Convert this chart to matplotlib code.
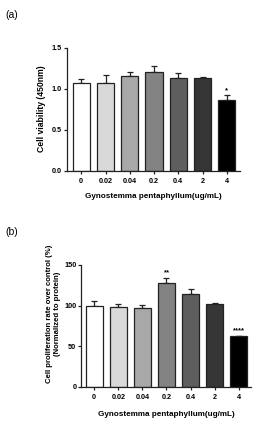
import matplotlib
matplotlib.use("Agg")
import matplotlib.pyplot as plt
import numpy as np

categories = ["0", "0.02", "0.04", "0.2", "0.4", "2", "4"]
colors = ["#ffffff", "#d9d9d9", "#a8a8a8", "#838383", "#5e5e5e", "#363636", "#000000"]

viability = [1.07, 1.075, 1.16, 1.205, 1.13, 1.13, 0.86]
viability_err = [0.045, 0.09, 0.045, 0.065, 0.055, 0.012, 0.06]
viability_sig = ["", "", "", "", "", "", "*"]

prolif = [100, 98, 97.3, 128.3, 114.4, 102.5, 62.2]
prolif_err = [5.3, 3.7, 3.2, 5.7, 5.4, 0.8, 0.8]
prolif_sig = ["", "", "", "**", "", "", "****"]

plt.rcParams['font.family'] = ['Liberation Sans', 'DejaVu Sans']
plt.rcParams['font.weight'] = 'bold'

fig = plt.figure(figsize=(2.57, 4.29), dpi=100)

def draw(ax, vals, errs, sig, ylim, yticks, ylabel, ylabel_fs, ylabel_pos, xlim, width, fmt, xlab_pad):
    x = np.arange(len(categories))
    ax.bar(x, vals, width=width, color=colors, edgecolor="#222222", linewidth=0.9, zorder=2)
    ax.errorbar(x, vals, yerr=[np.zeros(len(errs)), errs], fmt="none", ecolor="#222222",
                elinewidth=0.9, capsize=2.5, capthick=0.9, zorder=1)
    for xi, v, e, s in zip(x, vals, errs, sig):
        if s:
            ax.text(xi, v + e + ylim[1] * 0.012, s, ha="center", va="bottom", fontsize=5.5, fontweight="bold")
    ax.set_ylim(*ylim)
    ax.set_xlim(*xlim)
    ax.set_yticks(yticks)
    ax.set_yticklabels([fmt(t) for t in yticks], fontsize=5.2, fontweight="bold")
    ax.set_xticks(x)
    ax.set_xticklabels(categories, fontsize=5.2, fontweight="bold")
    for sp in ("top", "right"):
        ax.spines[sp].set_visible(False)
    for sp in ("left", "bottom"):
        ax.spines[sp].set_linewidth(0.9)
        ax.spines[sp].set_color("#222222")
    ax.tick_params(axis="y", length=2.5, width=0.9, pad=1, color="#222222")
    ax.tick_params(axis="x", length=2.5, width=0.9, pad=2.5, color="#222222")
    ax.set_ylabel(ylabel, fontsize=ylabel_fs, fontweight="bold", linespacing=1.15)
    ax.yaxis.set_label_coords(*ylabel_pos)
    ax.set_xlabel("Gynostemma pentaphyllum(ug/mL)", fontsize=5.85, fontweight="bold", labelpad=xlab_pad)

ax1 = fig.add_axes([0.2595, 0.602, 0.674, 0.287])
draw(ax1, viability, viability_err, viability_sig, (0, 1.5), [0.0, 0.5, 1.0, 1.5],
     "Cell viability (450nm)", 6.2, (-0.12, 0.5), (-0.6, 6.54), 0.71, lambda t: f"{t:.1f}", 6)

ax2 = fig.add_axes([0.316, 0.0986, 0.659, 0.2837])
draw(ax2, prolif, prolif_err, prolif_sig, (0, 150), [0, 50, 100, 150],
     "Cell proliferation rate over control (%)\n(Normalized to protein)", 5.6, (-0.12, 0.6),
     (-0.54, 6.49), 0.69, lambda t: f"{int(t)}", 7.5)

fig.text(0.02, 0.965, "(a)", fontsize=7.5, fontweight="normal", va="center")
fig.text(0.02, 0.46, "(b)", fontsize=7.5, fontweight="normal", va="center")

fig.savefig("out.png", dpi=100)
